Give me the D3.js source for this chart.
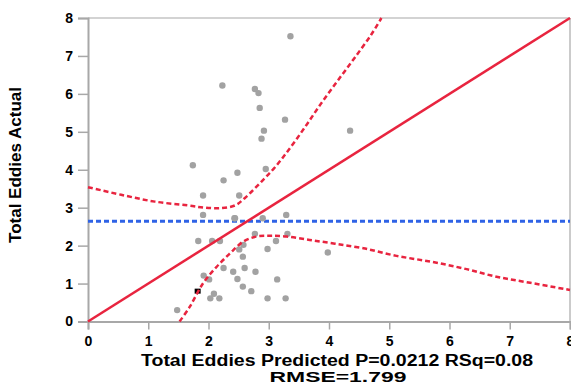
<!DOCTYPE html>
<html><head><meta charset="utf-8">
<script src="https://cdn.jsdelivr.net/npm/d3@7"></script>
<style>body{margin:0;background:#fff;} text{font-family:"Liberation Sans",Arial,sans-serif;font-weight:bold;fill:#000;}</style>
</head><body>
<svg id="c" width="571" height="384"></svg>
<script>
// Data
const xTicks = [0,1,2,3,4,5,6,7,8];
const yTicks = [0,1,2,3,4,5,6,7,8];
const xLabelLines = ["Total Eddies Predicted P=0.0212 RSq=0.08", "RMSE=1.799"];
const yLabel = "Total Eddies Actual";
const meanActual = 2.64;
const fitLine = [[0,0],[8,8]];
const upperCI = [[0,3.54],[0.55,3.34],[1.11,3.16],[1.66,3.06],[1.94,3.00],[2.21,2.99],[2.44,3.06],[2.60,3.25],[2.88,3.69],[3.10,4.06],[3.32,4.50],[3.60,5.12],[3.87,5.75],[4.15,6.36],[4.43,6.96],[4.70,7.56],[4.87,8.0]];
const lowerCI = [[1.52,0],[1.69,0.39],[1.91,1.01],[2.14,1.45],[2.36,1.80],[2.58,2.11],[2.80,2.24],[3.02,2.26],[3.30,2.24],[3.68,2.15],[4.10,2.05],[4.57,1.93],[5.12,1.73],[5.68,1.58],[6.23,1.40],[6.78,1.18],[7.34,1.02],[8.0,0.83]];
const predicted = [3.36,2.23,2.77,2.83,2.85,3.27,4.35,2.92,2.88,1.74,2.48,2.95,2.25,1.91,2.51,1.91,2.43,2.44,2.90,3.29,1.83,2.06,2.19,2.77,3.31,3.12,2.58,2.51,2.98,2.57,3.98,2.25,2.60,2.41,2.78,1.92,2.01,2.48,3.14,2.57,2.71,2.09,2.03,2.18,2.98,3.28,1.48];
const actual    = [7.52,6.22,6.13,6.02,5.63,5.32,5.03,5.03,4.82,4.12,3.92,4.02,3.72,3.32,3.32,2.81,2.72,2.72,2.72,2.81,2.12,2.12,2.12,2.31,2.31,2.12,2.02,1.90,1.91,1.71,1.82,1.41,1.41,1.31,1.31,1.21,1.11,1.12,1.11,0.92,0.80,0.73,0.61,0.61,0.61,0.61,0.30];
const highlighted = [[1.82,0.80]];

const svg = d3.select("#c");
const L=88, R=570, T=18, B=321.5;
const x = d3.scaleLinear().domain([0,8]).range([L,R]);
const y = d3.scaleLinear().domain([0,8]).range([B,T]);

const axisColor = "#a8a8a8";
svg.append("line").attr("x1",L).attr("x2",R).attr("y1",T).attr("y2",T).attr("stroke",axisColor).attr("stroke-width",1.2);
svg.append("line").attr("x1",R).attr("x2",R).attr("y1",T).attr("y2",B).attr("stroke",axisColor).attr("stroke-width",1.2);

const xAxis = svg.append("g").attr("transform",`translate(0,${B})`)
  .call(d3.axisBottom(x).tickValues(xTicks).tickFormat(d3.format("d")).tickSize(8).tickPadding(5));
const yAxis = svg.append("g").attr("transform",`translate(${L},0)`)
  .call(d3.axisLeft(y).tickValues(yTicks).tickFormat(d3.format("d")).tickSize(10).tickPadding(5));
[xAxis,yAxis].forEach(g=>{
  g.select(".domain").attr("stroke",axisColor).attr("stroke-width",2);
  g.selectAll(".tick line").attr("stroke",axisColor).attr("stroke-width",1.5);
  g.selectAll(".tick text").style("font-size","14px").style("font-family","'Liberation Sans',Arial,sans-serif").style("font-weight","bold").attr("fill","#000");
});
xAxis.selectAll(".tick text").attr("dy","0.85em");

const line = d3.line().x(d=>x(d[0])).y(d=>y(d[1]));
const curve = d3.line().x(d=>x(d[0])).y(d=>y(d[1])).curve(d3.curveCatmullRom.alpha(0.5));

const plot = svg.append("g");
plot.append("line").attr("x1",x(0)).attr("x2",x(8)).attr("y1",y(meanActual)).attr("y2",y(meanActual))
  .attr("stroke","#2f63e6").attr("stroke-width",3).attr("stroke-dasharray","5,3");
plot.selectAll("circle.p").data(predicted.map((p,i)=>[p,actual[i]])).join("circle")
  .attr("class","p").attr("cx",d=>x(d[0])).attr("cy",d=>y(d[1])).attr("r",3.2).attr("fill","#a2a2a2");
plot.selectAll("rect.h").data(highlighted).join("rect").attr("class","h")
  .attr("x",d=>x(d[0])-3).attr("y",d=>y(d[1])-2.5).attr("width",6).attr("height",5).attr("fill","#000");
plot.append("path").attr("d",line(fitLine)).attr("fill","none").attr("stroke","#e8243f").attr("stroke-width",2.5);
[upperCI,lowerCI].forEach(c=>{
  plot.append("path").attr("d",curve(c)).attr("fill","none").attr("stroke","#e8243f").attr("stroke-width",2.5).attr("stroke-dasharray","5,3");
});

svg.append("text").attr("x",337).attr("y",366).attr("text-anchor","middle").style("font-size","16px")
  .attr("textLength",392).attr("lengthAdjust","spacingAndGlyphs").text(xLabelLines[0]);
svg.append("text").attr("x",338).attr("y",382).attr("text-anchor","middle").style("font-size","15px")
  .attr("textLength",137).attr("lengthAdjust","spacingAndGlyphs").text(xLabelLines[1]);
svg.append("text").attr("transform","translate(21,165) rotate(-90)").attr("text-anchor","middle").style("font-size","16px")
  .attr("textLength",156).attr("lengthAdjust","spacingAndGlyphs").text(yLabel);
</script>
</body></html>
